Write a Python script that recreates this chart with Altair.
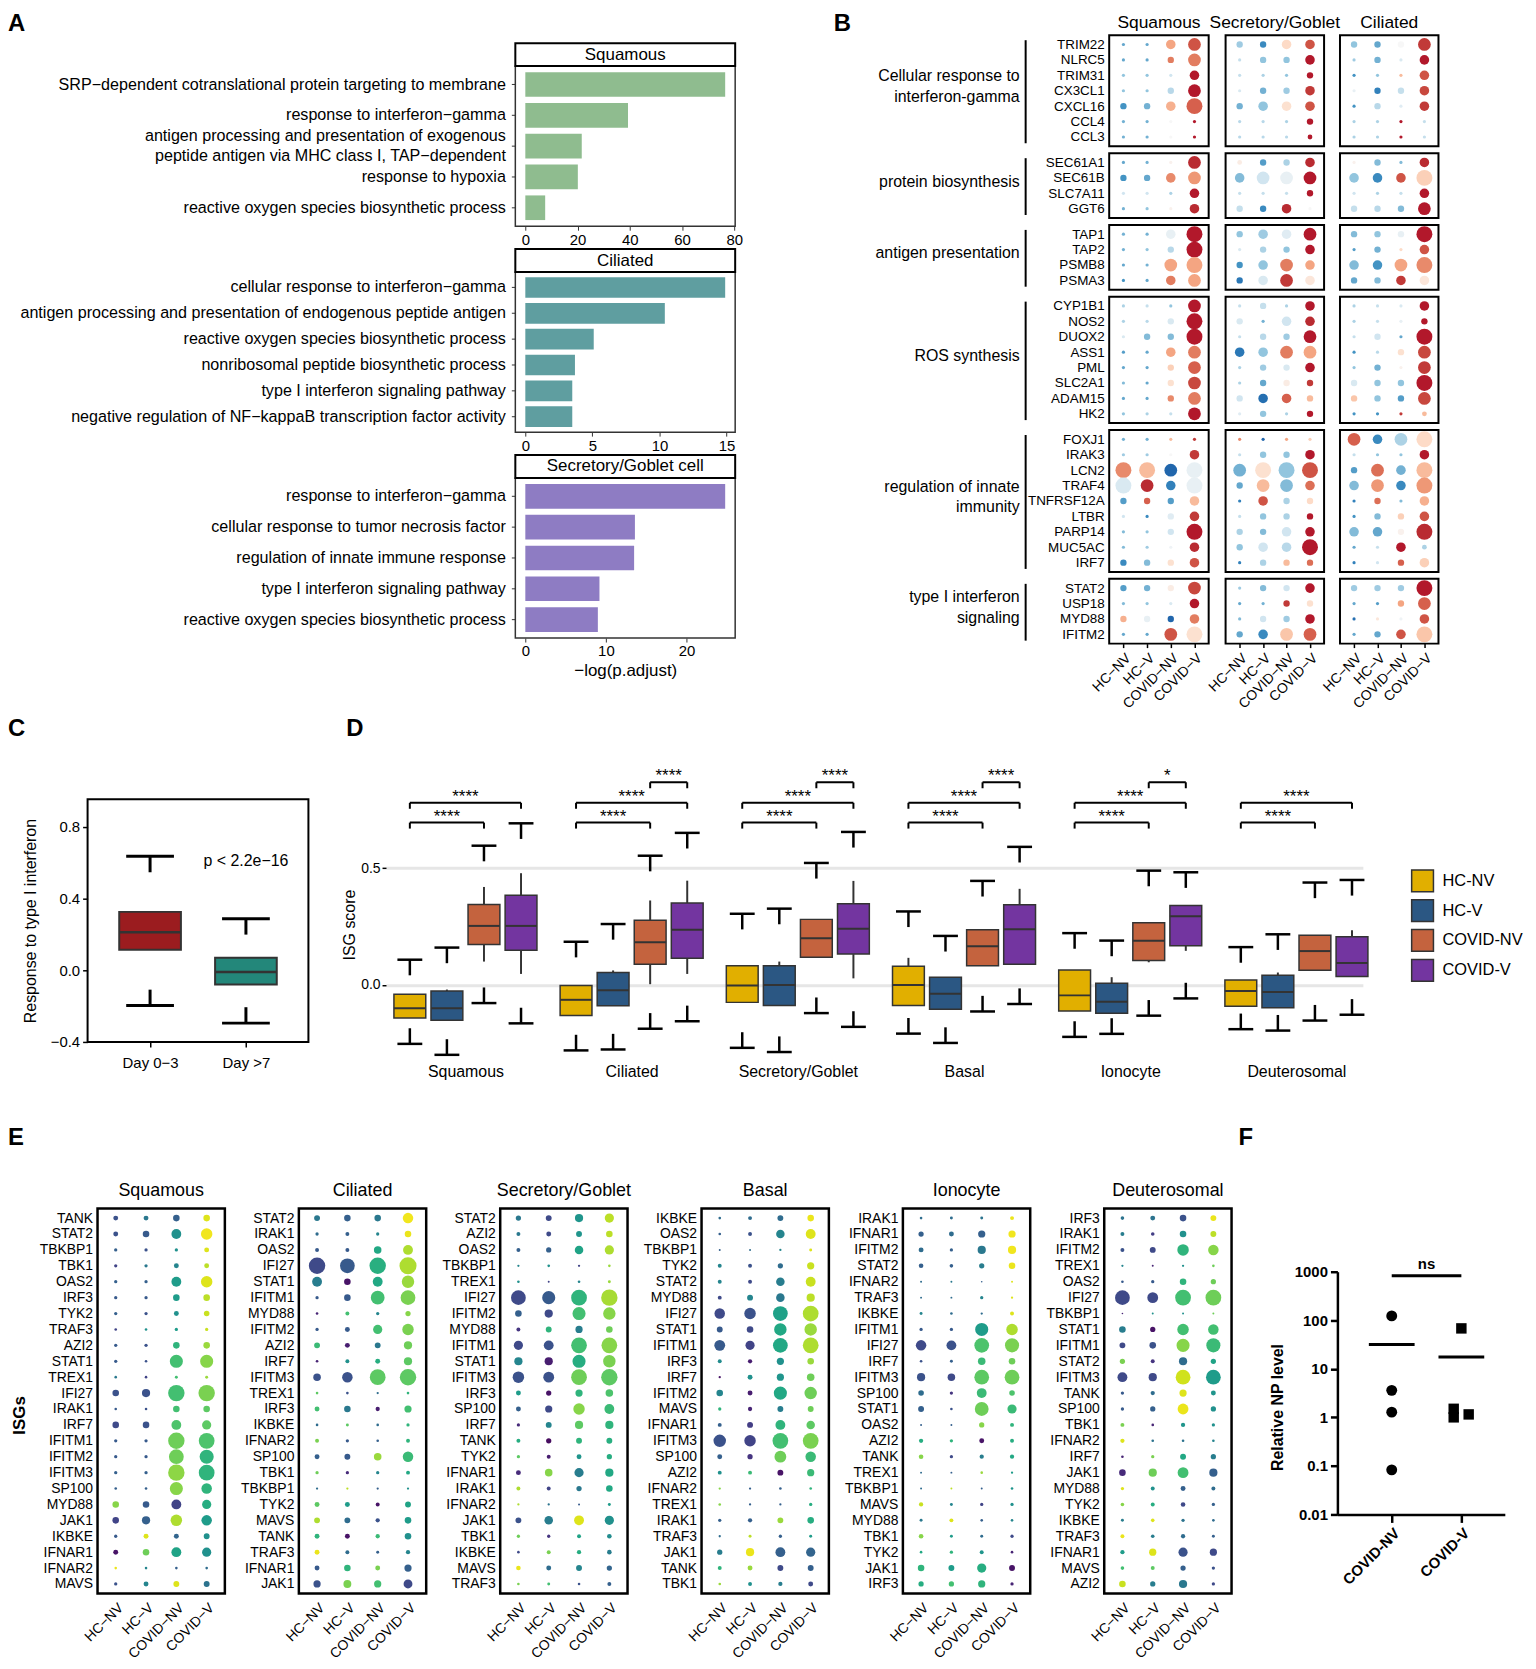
import json
import altair as alt
import pandas as pd

FONT = "Liberation Sans, Arial, Helvetica, sans-serif"
COND4 = ["HC−NV", "HC−V", "COVID−NV", "COVID−V"]

# ---------------- Panel A : GO enrichment bars ----------------
A_SQ_TERMS = [
    "SRP−dependent cotranslational protein targeting to membrane",
    "response to interferon−gamma",
    "antigen processing and presentation of exogenous|peptide antigen via MHC class I, TAP−dependent",
    "response to hypoxia",
    "reactive oxygen species biosynthetic process",
]
A_SQ_VALUES = [76.5, 39.3, 21.6, 20.1, 7.6]
A_CIL_TERMS = [
    "cellular response to interferon−gamma",
    "antigen processing and presentation of endogenous peptide antigen",
    "reactive oxygen species biosynthetic process",
    "nonribosomal peptide biosynthetic process",
    "type I interferon signaling pathway",
    "negative regulation of NF−kappaB transcription factor activity",
]
A_CIL_VALUES = [14.9, 10.4, 5.1, 3.7, 3.5, 3.5]
A_SEC_TERMS = [
    "response to interferon−gamma",
    "cellular response to tumor necrosis factor",
    "regulation of innate immune response",
    "type I interferon signaling pathway",
    "reactive oxygen species biosynthetic process",
]
A_SEC_VALUES = [24.8, 13.6, 13.5, 9.2, 9.0]
A_STRIP_TEXT = ["Squamous", "Ciliated", "Secretory/Goblet cell"]
A_TICKS = [[0, 20, 40, 60, 80], [0, 5, 10, 15], [0, 10, 20]]
A_COLORS = ["#8FBC8F", "#5F9EA0", "#8E7CC3"]

# ---------------- Panel B : pathway gene dot plot ----------------
B_CELLS = ["Squamous", "Secretory/Goblet", "Ciliated"]
B_GROUP_LABELS = [
    ["Cellular response to", "interferon-gamma"],
    ["protein biosynthesis"],
    ["antigen presentation"],
    ["ROS synthesis"],
    ["regulation of innate", "immunity"],
    ["type I interferon", "signaling"],
]
B_GROUP_GENES = [
    ["TRIM22", "NLRC5", "TRIM31", "CX3CL1", "CXCL16", "CCL4", "CCL3"],
    ["SEC61A1", "SEC61B", "SLC7A11", "GGT6"],
    ["TAP1", "TAP2", "PSMB8", "PSMA3"],
    ["CYP1B1", "NOS2", "DUOX2", "ASS1", "PML", "SLC2A1", "ADAM15", "HK2"],
    ["FOXJ1", "IRAK3", "LCN2", "TRAF4", "TNFRSF12A", "LTBR", "PARP14", "MUC5AC", "IRF7"],
    ["STAT2", "USP18", "MYD88", "IFITM2"],
]
B_SQ_COLOR = [
    [-1.3, -1.3, 1.0, 1.6], [-1.3, -1.3, 1.3, 1.3], [-1.0, -1.0, -0.5, 2.0], [-1.0, -1.0, -0.7, 2.0],
    [-1.5, -1.2, 0.9, 1.5], [-1.2, -1.2, 0.0, 2.0], [-1.2, -1.2, 0.0, 2.0],
    [-1.3, -1.2, 0.1, 1.9], [-1.5, -1.3, 1.2, 1.1], [-0.5, -0.5, -0.8, 2.0], [-1.2, -1.0, 0.1, 1.9],
    [-1.2, -1.2, -0.2, 2.0], [-1.2, -1.0, -0.7, 2.0], [-1.3, -1.2, 1.0, 1.0], [-1.5, -1.3, 1.3, 1.0],
    [-0.8, -0.6, -1.0, 2.0], [-0.8, -0.7, -0.4, 2.0], [-0.4, -1.1, -1.1, 2.0], [-1.4, -1.3, 1.0, 1.3],
    [-1.3, -1.3, 0.6, 1.5], [-1.1, -1.3, 0.4, 1.7], [-1.3, -1.3, 1.2, 1.3], [-1.0, -0.8, -0.6, 2.0],
    [-1.2, -1.2, 0.8, 1.8], [-0.9, -0.9, 0.0, 1.8], [1.2, 0.8, -2.0, -0.2], [-0.4, 1.9, -1.7, -0.2],
    [-1.4, 1.5, -1.4, 0.8], [-0.5, -1.6, -0.3, 1.8], [-1.1, -1.0, -0.5, 2.0], [-1.1, -0.9, -0.1, 1.9],
    [-1.6, -1.1, 0.4, 1.6],
    [-1.4, -1.2, 0.2, 1.7], [-1.1, -1.0, -0.4, 2.0], [0.9, -0.2, -2.0, 1.3], [-1.3, -1.3, 1.6, 0.4],
]
B_SQ_SIZE = [
    [1, 1, 3, 4], [1, 1, 2, 4], [1, 1, 1, 3], [1, 1, 2, 4], [2, 2, 3, 5], [1, 1, 1, 1], [1, 1, 1, 1],
    [1, 1, 1, 4], [2, 2, 3, 4], [1, 1, 1, 3], [1, 1, 1, 3],
    [1, 1, 3, 5], [1, 1, 2, 5], [1, 1, 4, 5], [1, 1, 3, 4],
    [1, 1, 1, 4], [1, 1, 2, 5], [1, 2, 2, 5], [1, 1, 3, 4], [1, 1, 2, 4], [1, 1, 2, 4], [1, 1, 2, 4], [1, 1, 1, 4],
    [1, 1, 1, 1], [1, 1, 1, 3], [5, 5, 4, 5], [5, 4, 3, 5], [2, 2, 2, 3], [1, 1, 2, 3], [1, 1, 2, 5], [1, 1, 1, 3], [2, 2, 2, 3],
    [2, 2, 2, 4], [1, 1, 1, 3], [2, 2, 2, 3], [1, 1, 4, 5],
]
B_SEC_COLOR = [
    [-0.9, -1.6, 0.5, 1.6], [-0.6, -1.0, -1.0, 2.0], [-0.6, -0.8, -1.0, 2.0], [-0.4, -1.2, -0.9, 1.8],
    [-1.2, -1.0, 0.4, 1.6], [-0.7, -0.7, -0.8, 2.0], [-0.7, -0.7, -0.7, 2.0],
    [0.2, -1.4, -0.8, 1.9], [-1.1, -0.5, -0.2, 2.0], [-0.6, -0.6, -0.6, 2.0], [-0.6, -1.6, 1.9, 0.0],
    [-1.0, -0.9, -0.3, 2.0], [-0.4, -0.8, -1.0, 2.0], [-1.5, -1.0, 1.3, 1.0], [-1.8, -0.4, 1.8, 0.3],
    [-0.6, -0.6, -0.8, 2.0], [-0.4, -1.2, -0.5, 1.9], [-0.6, -0.7, -0.9, 2.0], [-1.8, -1.0, 1.3, 1.0],
    [-0.8, -0.9, -0.4, 2.0], [-0.8, -1.3, 0.2, 1.8], [-0.5, -1.9, 1.5, 0.8], [-0.3, -1.0, -0.8, 2.0],
    [1.2, -2.0, 1.0, 0.6], [-0.6, -1.0, -1.0, 2.0], [-1.2, 0.4, -1.0, 1.6], [-1.3, 0.8, -1.1, 1.4],
    [-1.7, 1.6, -0.8, 0.5], [-0.6, -1.0, -0.8, 2.0], [-0.8, -1.1, -0.5, 2.0], [-1.0, -0.5, -0.7, 2.0],
    [-1.7, -0.8, 0.8, 1.4],
    [-0.9, -1.1, -0.5, 2.0], [-1.3, -1.2, 1.8, 0.4], [-1.1, -0.5, -0.9, 2.0], [-1.3, -1.6, 0.7, 1.5],
]
B_SEC_SIZE = [
    [2, 2, 3, 3], [1, 2, 2, 3], [1, 1, 1, 2], [1, 2, 2, 3], [2, 3, 3, 3], [1, 1, 1, 2], [1, 1, 1, 1.5],
    [1.5, 2, 2, 3], [3, 4, 4, 4], [1, 1, 1, 2], [2, 2, 3, 1],
    [2, 3, 3, 4], [1, 2, 2, 3], [2, 3, 4, 3], [2, 3, 4, 3],
    [1, 2, 1, 3], [2, 1, 3, 3], [1, 2, 2, 4], [3, 3, 4, 4], [1, 2, 2, 3], [1, 2, 2, 2], [2, 3, 3, 2], [1, 2, 1, 2],
    [1, 1, 1, 1], [1, 2, 2, 3], [4, 5, 5, 5], [2, 4, 4, 3], [1, 3, 2, 2], [1, 2, 2, 2], [2, 2, 3, 3], [2, 3, 3, 5], [1, 2, 2, 2],
    [1, 2, 2, 3], [1, 1, 2, 2], [1, 2, 2, 3], [2, 3, 4, 4],
]
B_CIL_COLOR = [
    [-1.0, -1.3, 0.0, 1.8], [-0.9, -1.2, -0.4, 2.0], [-1.5, -1.0, 0.8, 1.6], [-0.2, -1.7, -0.6, 1.7],
    [-1.5, -0.7, -0.3, 1.8], [-0.8, -0.8, 2.0, -0.6], [-0.8, -0.8, 2.0, -0.6],
    [0.1, -1.1, -1.1, 1.9], [-1.0, -1.6, 1.6, 0.6], [-0.5, -0.8, -0.6, 2.0], [-0.6, -0.7, -1.1, 2.0],
    [-1.1, -1.0, -0.2, 2.0], [-1.4, -1.2, 0.5, 1.6], [-1.1, -1.5, 1.0, 1.2], [-1.3, -1.1, 1.8, 0.3],
    [-0.8, -0.6, -0.4, 2.0], [-0.8, -0.6, -0.2, 2.0], [-0.6, -0.5, -1.3, 2.0], [-1.5, -0.7, 0.4, 1.7],
    [-1.0, -1.2, 0.1, 1.8], [-0.4, -1.0, -1.0, 2.0], [0.7, -1.0, -1.4, 1.7], [-1.5, -1.5, 1.8, 0.8],
    [1.5, -1.6, -0.8, 0.5], [-0.6, -1.0, -1.0, 2.0], [-1.4, 1.4, -1.2, 0.8], [-1.1, 1.1, -1.6, 1.1],
    [-1.7, 1.4, -1.1, 0.9], [-1.5, -1.1, 0.6, 1.6], [-1.1, -1.3, 0.1, 1.9], [-1.3, -0.6, 2.0, -0.8],
    [-1.7, -0.5, 1.5, 0.6],
    [-0.9, -0.9, -0.9, 2.0], [-1.3, -1.4, 1.0, 1.5], [-1.9, 0.3, -0.1, 1.6], [-1.3, -1.3, 1.6, 0.7],
]
B_CIL_SIZE = [
    [2, 2, 2, 4], [1, 2, 1, 3], [1, 1, 1, 3], [1, 2, 2, 3], [1, 2, 1, 3], [1, 1, 1, 1], [1, 1, 1, 1],
    [1, 2, 1, 3], [3, 3, 3, 5], [1, 1, 1, 3], [2, 2, 2, 4],
    [2, 2, 2, 5], [1, 2, 1, 3], [3, 3, 4, 5], [2, 2, 3, 3],
    [1, 1, 1, 3], [1, 1, 1, 2], [1, 2, 1, 5], [1, 1, 2, 4], [1, 2, 1, 4], [2, 2, 2, 5], [2, 2, 2, 4], [1, 1, 1, 1.5],
    [4, 3, 4, 5], [1, 1, 1, 3], [2, 4, 3, 5], [3, 4, 3, 5], [1, 2, 1, 3], [1, 2, 2, 3], [3, 3, 2, 5], [1, 1, 3, 1.5], [1, 1, 2, 3],
    [2, 2, 2, 5], [1, 1, 2, 4], [1, 1, 1, 3], [1, 2, 3, 5],
]
RDBU_DOMAIN = [-2, -1.5, -1, -0.5, 0, 0.5, 1, 1.5, 2]
RDBU_RANGE = ["#2166AC", "#4393C3", "#92C5DE", "#D1E5F0", "#F7F7F7",
              "#FDDBC7", "#F4A582", "#D6604D", "#B2182B"]

# ---------------- Panel C : type I IFN response ----------------
C_LABELS = ["Day 0−3", "Day >7"]
C_CAP_HI = [0.636, 0.288]
C_Q3 = [0.326, 0.070]
C_MED = [0.212, -0.010]
C_Q1 = [0.114, -0.080]
C_CAP_LO = [-0.197, -0.295]
C_COLORS = ["#9B1C1F", "#23877A"]
C_PTEXT = "p < 2.2e−16"
C_PTEXT_POS = [1.0, 0.61]

# ---------------- Panel D : ISG score boxes ----------------
D_GROUPS = ["Squamous", "Ciliated", "Secretory/Goblet", "Basal", "Ionocyte", "Deuterosomal"]
D_CONDS = ["HC-NV", "HC-V", "COVID-NV", "COVID-V"]
D_COLORS = ["#E1AF00", "#2B5783", "#C4633E", "#7335A0"]
D_CAP_HI = [[0.108, 0.160, 0.597, 0.693], [0.185, 0.261, 0.554, 0.652], [0.305, 0.327, 0.523, 0.656],
            [0.315, 0.210, 0.446, 0.592], [0.222, 0.190, 0.490, 0.483], [0.162, 0.217, 0.439, 0.450]]
D_WHISK_HI = [[-0.040, -0.020, 0.420, 0.479], [-0.003, 0.062, 0.362, 0.447], [0.082, 0.100, 0.281, 0.446],
              [0.116, 0.033, 0.237, 0.412], [0.064, 0.033, 0.267, 0.341], [0.021, 0.053, 0.213, 0.234]]
D_Q3 = [[-0.040, -0.026, 0.345, 0.384], [-0.003, 0.053, 0.277, 0.351], [0.082, 0.082, 0.281, 0.348],
        [0.080, 0.033, 0.237, 0.344], [0.064, 0.007, 0.267, 0.341], [0.021, 0.041, 0.213, 0.206]]
D_MED = [[-0.100, -0.100, 0.253, 0.253], [-0.064, -0.023, 0.183, 0.236], [-0.003, 0.000, 0.200, 0.241],
         [0.000, -0.038, 0.166, 0.239], [-0.045, -0.072, 0.189, 0.294], [-0.026, -0.030, 0.145, 0.094]]
D_Q1 = [[-0.142, -0.152, 0.173, 0.149], [-0.131, -0.090, 0.088, 0.114], [-0.075, -0.088, 0.119, 0.132],
        [-0.088, -0.104, 0.082, 0.089], [-0.112, -0.122, 0.105, 0.168], [-0.092, -0.098, 0.063, 0.036]]
D_WHISK_LO = [[-0.142, -0.152, 0.100, 0.047], [-0.131, -0.090, 0.003, 0.047], [-0.075, -0.088, 0.119, 0.028],
              [-0.088, -0.104, 0.082, 0.089], [-0.112, -0.122, 0.097, 0.146], [-0.092, -0.098, 0.063, 0.036]]
D_CAP_LO = [[-0.253, -0.300, -0.078, -0.165], [-0.281, -0.277, -0.188, -0.156], [-0.270, -0.288, -0.121, -0.180],
            [-0.209, -0.249, -0.114, -0.082], [-0.223, -0.210, -0.132, -0.058], [-0.190, -0.196, -0.153, -0.128]]
D_BR_GROUP = [0, 0, 1, 1, 1, 2, 2, 2, 3, 3, 3, 4, 4, 4, 5, 5]
D_BR_FROM = [0, 0, 0, 0, 2, 0, 0, 2, 0, 0, 2, 0, 0, 2, 0, 0]
D_BR_TO = [2, 3, 2, 3, 3, 2, 3, 3, 2, 3, 3, 2, 3, 3, 2, 3]
D_BR_LEVEL = [0.696, 0.781, 0.696, 0.781, 0.869, 0.696, 0.781, 0.869,
              0.696, 0.781, 0.869, 0.696, 0.781, 0.869, 0.696, 0.781]
D_BR_LABEL = ["****", "****", "****", "****", "****", "****", "****", "****",
              "****", "****", "****", "****", "****", "*", "****", "****"]

# ---------------- Panel E : ISG dot plots ----------------
E_CELLS = ["Squamous", "Ciliated", "Secretory/Goblet", "Basal", "Ionocyte", "Deuterosomal"]
E_SQ_GENES = ["TANK", "STAT2", "TBKBP1", "TBK1", "OAS2", "IRF3", "TYK2", "TRAF3", "AZI2", "STAT1", "TREX1", "IFI27",
              "IRAK1", "IRF7", "IFITM1", "IFITM2", "IFITM3", "SP100", "MYD88", "JAK1", "IKBKE", "IFNAR1", "IFNAR2", "MAVS"]
E_SQ_COLOR = [[0.25, 0.40, 0.30, 0.95], [0.25, 0.28, 0.50, 0.98], [0.30, 0.25, 0.50, 0.95], [0.20, 0.40, 0.45, 0.90],
              [0.30, 0.30, 0.55, 0.95], [0.28, 0.28, 0.55, 0.90], [0.30, 0.25, 0.50, 0.92], [0.20, 0.50, 0.55, 0.92],
              [0.28, 0.25, 0.65, 0.85], [0.28, 0.25, 0.70, 0.82], [0.40, 0.20, 0.70, 0.85], [0.25, 0.25, 0.70, 0.80],
              [0.28, 0.25, 0.70, 0.75], [0.22, 0.25, 0.72, 0.75], [0.28, 0.28, 0.78, 0.72], [0.28, 0.28, 0.78, 0.65],
              [0.30, 0.30, 0.83, 0.65], [0.30, 0.30, 0.82, 0.65], [0.82, 0.28, 0.20, 0.62], [0.20, 0.30, 0.88, 0.55],
              [0.28, 0.95, 0.32, 0.50], [0.05, 0.78, 0.58, 0.50], [0.97, 0.45, 0.30, 0.35], [0.25, 0.45, 0.95, 0.38]]
E_SQ_SIZE = [[1.5, 1.5, 2, 2], [1.5, 2, 3, 3.5], [1, 1, 1, 1.5], [1, 1, 1.5, 1.5], [1, 1, 3, 3.5], [1, 1, 2, 2],
             [1, 1, 1.5, 1.7], [0.8, 0.8, 1, 1], [1, 1, 2, 2], [1, 0.8, 4, 4], [0.8, 0.8, 0.9, 0.9], [2, 2.5, 5, 5],
             [0.8, 0.8, 2, 2], [2, 2, 3, 2.8], [1, 1, 5, 4.8], [1, 1, 4.5, 4.3], [1, 1, 5, 4.8], [0.8, 0.8, 4, 3.2],
             [2, 2, 3, 2.8], [2, 2.5, 3.5, 3.2], [1, 1.5, 1.5, 1.8], [1.5, 2, 3, 2.8], [0.8, 0.8, 0.8, 0.8], [1, 1.5, 1.8, 1.8]]
E_CIL_GENES = ["STAT2", "IRAK1", "OAS2", "IFI27", "STAT1", "IFITM1", "MYD88", "IFITM2", "AZI2", "IRF7", "IFITM3", "TREX1",
               "IRF3", "IKBKE", "IFNAR2", "SP100", "TBK1", "TBKBP1", "TYK2", "MAVS", "TANK", "TRAF3", "IFNAR1", "JAK1"]
E_CIL_COLOR = [[0.40, 0.30, 0.40, 0.98], [0.35, 0.30, 0.45, 0.97], [0.28, 0.28, 0.60, 0.88], [0.22, 0.28, 0.63, 0.88],
               [0.42, 0.05, 0.60, 0.85], [0.28, 0.28, 0.70, 0.80], [0.10, 0.70, 0.45, 0.82], [0.28, 0.28, 0.70, 0.80],
               [0.68, 0.08, 0.40, 0.78], [0.10, 0.50, 0.62, 0.75], [0.25, 0.25, 0.75, 0.75], [0.75, 0.25, 0.35, 0.65],
               [0.70, 0.40, 0.08, 0.70], [0.35, 0.75, 0.35, 0.65], [0.80, 0.28, 0.30, 0.65], [0.30, 0.28, 0.85, 0.68],
               [0.78, 0.12, 0.45, 0.60], [0.35, 0.90, 0.30, 0.50], [0.75, 0.55, 0.05, 0.58], [0.88, 0.35, 0.25, 0.55],
               [0.65, 0.05, 0.68, 0.50], [0.97, 0.35, 0.30, 0.45], [0.28, 0.65, 0.80, 0.30], [0.25, 0.80, 0.70, 0.22]]
E_CIL_SIZE = [[1.8, 2, 2, 3.2], [1, 1.2, 1, 2], [1.2, 1.2, 2.3, 3], [5, 4.5, 5, 5.2], [3, 2, 3, 3.8], [1, 2, 4.2, 4.5],
              [0.8, 1.2, 1, 1.6], [1, 1.5, 2.8, 3.5], [1.8, 1.5, 1.8, 2.5], [0.8, 1.2, 1.5, 2.5], [2.3, 3.2, 4.8, 5],
              [0.8, 0.8, 0.7, 0.8], [1.5, 2, 1.3, 2.2], [0.8, 0.9, 0.8, 1], [1.2, 1, 0.8, 1.2], [1.5, 1.8, 2.3, 3.2],
              [1, 1, 1, 1.2], [0.7, 0.7, 0.7, 0.7], [1.5, 1.5, 1.2, 1.8], [1.8, 1.8, 1.3, 2], [1.5, 1.5, 1.3, 2],
              [1.5, 1.2, 0.9, 1.3], [1.5, 2, 1.5, 2.2], [2.2, 2.4, 2.2, 2.7]]
E_SEC_GENES = ["STAT2", "AZI2", "OAS2", "TBKBP1", "TREX1", "IFI27", "IFITM2", "MYD88", "IFITM1", "STAT1", "IFITM3", "IRF3",
               "SP100", "IRF7", "TANK", "TYK2", "IFNAR1", "IRAK1", "IFNAR2", "JAK1", "TBK1", "IKBKE", "MAVS", "TRAF3"]
E_SEC_COLOR = [[0.40, 0.22, 0.52, 0.90], [0.40, 0.22, 0.52, 0.90], [0.30, 0.30, 0.58, 0.88], [0.45, 0.50, 0.20, 0.85],
               [0.50, 0.20, 0.45, 0.85], [0.22, 0.28, 0.65, 0.87], [0.30, 0.22, 0.70, 0.82], [0.15, 0.65, 0.42, 0.78],
               [0.22, 0.25, 0.70, 0.82], [0.45, 0.08, 0.62, 0.80], [0.25, 0.25, 0.78, 0.75], [0.55, 0.05, 0.65, 0.72],
               [0.30, 0.22, 0.82, 0.68], [0.12, 0.45, 0.75, 0.65], [0.62, 0.03, 0.65, 0.63], [0.75, 0.08, 0.52, 0.62],
               [0.12, 0.82, 0.42, 0.60], [0.88, 0.20, 0.40, 0.60], [0.88, 0.38, 0.28, 0.55], [0.25, 0.42, 0.95, 0.50],
               [0.78, 0.15, 0.58, 0.48], [0.22, 0.80, 0.62, 0.42], [0.97, 0.35, 0.45, 0.32], [0.80, 0.70, 0.25, 0.30]]
E_SEC_SIZE = [[1.6, 1.8, 2.5, 2.8], [1.2, 1.5, 1.8, 2], [1.2, 1.6, 2.6, 2.8], [0.7, 0.8, 0.7, 0.8], [0.8, 0.6, 0.8, 0.9],
              [4.5, 4, 4.8, 5], [2, 2.5, 4, 3.8], [1.2, 1.8, 2.2, 2], [2.8, 3, 4.8, 4.8], [2.5, 2.5, 4, 3.8],
              [3.5, 3.3, 4.8, 5], [1.5, 1.6, 2.2, 2.3], [1.5, 2.2, 3.5, 3], [1, 1.8, 2.5, 2.5], [1.2, 1.6, 1.8, 1.8],
              [1, 1.2, 1.5, 1.6], [1.5, 2.3, 2.8, 2.5], [1.2, 1.2, 1.6, 2], [0.7, 0.7, 0.6, 0.9], [1.8, 2.6, 3, 2.8],
              [1, 1, 1.2, 1.4], [0.8, 1.2, 1.3, 1.4], [1.4, 1.5, 1.8, 1.6], [0.8, 0.9, 0.8, 1.2]]
E_BAS_GENES = ["IKBKE", "OAS2", "TBKBP1", "TYK2", "STAT2", "MYD88", "IFI27", "STAT1", "IFITM1", "IRF3", "IRF7", "IFITM2",
               "MAVS", "IFNAR1", "IFITM3", "SP100", "AZI2", "IFNAR2", "TREX1", "IRAK1", "TRAF3", "JAK1", "TANK", "TBK1"]
E_BAS_COLOR = [[0.35, 0.35, 0.35, 0.97], [0.30, 0.25, 0.45, 0.95], [0.30, 0.35, 0.45, 0.95], [0.45, 0.25, 0.35, 0.92],
               [0.45, 0.22, 0.42, 0.92], [0.22, 0.45, 0.40, 0.90], [0.22, 0.25, 0.57, 0.88], [0.28, 0.22, 0.60, 0.85],
               [0.28, 0.20, 0.60, 0.88], [0.48, 0.08, 0.50, 0.85], [0.05, 0.50, 0.52, 0.78], [0.45, 0.08, 0.60, 0.78],
               [0.65, 0.10, 0.42, 0.78], [0.30, 0.18, 0.65, 0.75], [0.25, 0.20, 0.70, 0.80], [0.30, 0.15, 0.78, 0.68],
               [0.50, 0.68, 0.05, 0.68], [0.82, 0.30, 0.30, 0.65], [0.82, 0.30, 0.30, 0.62], [0.30, 0.30, 0.85, 0.62],
               [0.35, 0.90, 0.30, 0.55], [0.42, 0.97, 0.30, 0.32], [0.65, 0.85, 0.22, 0.30], [0.85, 0.50, 0.42, 0.22]]
E_BAS_SIZE = [[0.8, 1.2, 1.8, 2], [0.8, 1.2, 2.6, 3], [0.6, 0.6, 0.7, 0.9], [1.2, 1.2, 1.6, 2.2], [1.2, 1.2, 2.6, 3],
              [1.2, 1.8, 2.6, 2.5], [3.2, 3.5, 4.5, 4.8], [1.8, 2, 3.8, 3.8], [3.3, 2.8, 4.5, 4.8], [1.2, 1.3, 2.2, 2],
              [0.7, 1.5, 2.2, 2.3], [2, 1.5, 4, 3.8], [1, 1.3, 1.8, 1.8], [1.2, 1.8, 3, 2.6], [3.8, 3.5, 4.8, 4.8],
              [1.5, 1.6, 3.6, 3.2], [1.2, 1.2, 1.8, 2.2], [0.7, 0.7, 0.8, 0.8], [0.8, 0.7, 0.7, 1], [1, 1.3, 1.8, 2],
              [0.7, 0.9, 1, 0.9], [1.6, 2.5, 3, 2.8], [1.2, 1.5, 1.8, 1.8], [0.8, 1.2, 1.3, 1.5]]
E_ION_GENES = ["IRAK1", "IFNAR1", "IFITM2", "STAT2", "IFNAR2", "TRAF3", "IKBKE", "IFITM1", "IFI27", "IRF7", "IFITM3", "SP100",
               "STAT1", "OAS2", "AZI2", "TANK", "TREX1", "TBKBP1", "MAVS", "MYD88", "TBK1", "TYK2", "JAK1", "IRF3"]
E_ION_COLOR = [[0.35, 0.35, 0.38, 0.97], [0.30, 0.35, 0.30, 0.98], [0.35, 0.30, 0.40, 0.98], [0.30, 0.30, 0.42, 0.97],
               [0.35, 0.40, 0.30, 0.95], [0.35, 0.35, 0.45, 0.95], [0.45, 0.35, 0.35, 0.95], [0.28, 0.28, 0.55, 0.88],
               [0.22, 0.25, 0.72, 0.80], [0.25, 0.30, 0.68, 0.78], [0.25, 0.22, 0.75, 0.78], [0.35, 0.15, 0.68, 0.72],
               [0.30, 0.25, 0.78, 0.68], [0.30, 0.30, 0.82, 0.65], [0.62, 0.65, 0.05, 0.62], [0.82, 0.22, 0.42, 0.60],
               [0.35, 0.30, 0.85, 0.55], [0.35, 0.90, 0.30, 0.52], [0.92, 0.45, 0.20, 0.50], [0.40, 0.95, 0.30, 0.45],
               [0.82, 0.55, 0.35, 0.22], [0.60, 0.65, 0.52, 0.10], [0.65, 0.55, 0.62, 0.05], [0.62, 0.70, 0.65, 0.10]]
E_ION_SIZE = [[0.8, 0.9, 0.9, 1.2], [1.6, 1.5, 2.2, 2.2], [1.5, 1, 2.5, 2.5], [1.4, 1.1, 1.6, 2], [0.6, 0.6, 0.5, 0.6],
              [0.6, 0.6, 1, 0.7], [0.9, 0.8, 0.7, 1.2], [1, 1, 4, 3.5], [3.2, 3, 4.5, 4.3], [0.8, 0.9, 2.3, 2],
              [2.5, 2.3, 4.5, 4.5], [1.7, 1, 3, 1.7], [1.8, 0.8, 4.2, 2.8], [0.6, 0.6, 1.6, 1.2], [1.3, 1, 1.5, 1.2],
              [1.4, 1, 1.3, 1.3], [0.6, 0.6, 0.8, 0.7], [0.6, 0.6, 0.6, 0.8], [1.3, 0.9, 1, 1], [0.9, 1.2, 0.8, 0.8],
              [1.4, 0.9, 0.9, 1], [0.8, 1, 1.2, 0.8], [2, 1.8, 2.8, 1.8], [1.6, 1.6, 2.2, 1]]
E_DEU_GENES = ["IRF3", "IRAK1", "IFITM2", "TREX1", "OAS2", "IFI27", "TBKBP1", "STAT1", "IFITM1", "STAT2", "IFITM3", "TANK",
               "SP100", "TBK1", "IFNAR2", "IRF7", "JAK1", "MYD88", "TYK2", "IKBKE", "TRAF3", "IFNAR1", "MAVS", "AZI2"]
E_DEU_COLOR = [[0.38, 0.38, 0.25, 0.97], [0.42, 0.18, 0.50, 0.90], [0.25, 0.22, 0.65, 0.82], [0.45, 0.10, 0.50, 0.78],
               [0.28, 0.28, 0.65, 0.78], [0.22, 0.22, 0.70, 0.78], [0.10, 0.50, 0.50, 0.78], [0.42, 0.05, 0.70, 0.70],
               [0.22, 0.25, 0.82, 0.68], [0.80, 0.15, 0.35, 0.58], [0.22, 0.22, 0.93, 0.55], [0.28, 0.35, 0.95, 0.52],
               [0.28, 0.30, 0.97, 0.50], [0.80, 0.10, 0.52, 0.50], [0.95, 0.38, 0.38, 0.45], [0.10, 0.80, 0.60, 0.42],
               [0.12, 0.78, 0.70, 0.30], [0.95, 0.50, 0.30, 0.35], [0.82, 0.62, 0.22, 0.30], [0.42, 0.95, 0.38, 0.35],
               [0.97, 0.42, 0.35, 0.30], [0.55, 0.95, 0.25, 0.22], [0.70, 0.75, 0.30, 0.25], [0.92, 0.42, 0.40, 0.22]]
E_DEU_SIZE = [[1.1, 1.5, 2, 1.8], [1.2, 1.1, 2, 1.8], [1.2, 1.8, 3.5, 3.2], [0.7, 0.6, 0.7, 0.8], [0.8, 1, 2, 1.6],
              [4.5, 3.3, 4.8, 4.8], [0.5, 0.6, 0.6, 0.6], [2, 1.6, 3.5, 3.2], [1.8, 2, 4, 4.3], [1.6, 1.2, 2.5, 1.6],
              [3, 2.5, 4.5, 4.5], [1, 1.3, 2.2, 1.5], [1, 1.6, 3.3, 1.6], [1.2, 0.8, 1.3, 1], [1.3, 0.8, 0.8, 0.8],
              [0.8, 1, 1.8, 1.6], [2, 2.5, 3.3, 2.5], [1, 1.2, 1.5, 1.2], [1.1, 1.2, 1.4, 1], [0.9, 1.1, 1, 0.8],
              [1.2, 1.1, 1.3, 0.9], [1.3, 2.2, 2.8, 2.2], [1.1, 1.2, 1.6, 1], [2, 1.6, 2.5, 1]]
E_GENES = [E_SQ_GENES, E_CIL_GENES, E_SEC_GENES, E_BAS_GENES, E_ION_GENES, E_DEU_GENES]
E_COLOR = [E_SQ_COLOR, E_CIL_COLOR, E_SEC_COLOR, E_BAS_COLOR, E_ION_COLOR, E_DEU_COLOR]
E_SIZE = [E_SQ_SIZE, E_CIL_SIZE, E_SEC_SIZE, E_BAS_SIZE, E_ION_SIZE, E_DEU_SIZE]

# ---------------- Panel F : NP level ----------------
F_CONDS = ["COVID-NV", "COVID-V"]
F_NV_VALUES = [123, 3.6, 1.28, 0.083]
F_V_VALUES = [68, 1.5, 1.0, 1.15]
F_V_JITTER = [0.0, -0.11, -0.11, 0.105]
F_MEANS = [31.8, 17.5]
F_NS_LEVEL = 830
F_YTICKS = [0.01, 0.1, 1, 10, 100, 1000]

# =====================================================================
# One canvas; every panel gets its own scales whose pixel ranges place it.
W, H = 1528, 1661
ONE = pd.DataFrame({"v": [0]})


def qscale(d0, d1, r0, r1, **kw):
    return alt.Scale(domain=[d0, d1], range=[r0, r1], nice=False, zero=False, **kw)


def frame(x0, x1, y0, y1, stroke="black", sw=2.0, fill="transparent", texts=(), vlines=()):
    xs = qscale(0, 1, x0, x1)
    ys = qscale(0, 1, y1, y0)

    def XD(v):
        return alt.XDatum(v, type="quantitative", scale=xs, axis=None)

    def YD(v):
        return alt.YDatum(v, type="quantitative", scale=ys, axis=None)

    base = alt.Chart(ONE)
    layers = [base.mark_rect(fill=fill, stroke=stroke, strokeWidth=sw).encode(
        x=XD(0), x2=alt.X2Datum(1), y=YD(0), y2=alt.Y2Datum(1))]
    for fx, fy, props in texts:
        p = dict(font=FONT, color="black")
        p.update(props)
        layers.append(base.mark_text(**p).encode(x=XD(fx), y=YD(fy)))
    for fx, props in vlines:
        layers.append(base.mark_rule(**props).encode(x=XD(fx), y=YD(0), y2=alt.Y2Datum(1)))
    return alt.layer(*layers)


def letter_text(text, dx, dy):
    return dict(text=text, fontSize=24, fontWeight="bold", align="left", baseline="middle", dx=dx, dy=dy)


children = []

# ---------------- A ----------------
A_X0, A_X1 = 510, 731
A_STRIP_Y = [(31, 54), (238, 261), (445, 468)]
A_PLOT_Y = [(54, 215), (261, 422), (468, 629)]
A_TERMS = [A_SQ_TERMS, A_CIL_TERMS, A_SEC_TERMS]
A_VALUES = [A_SQ_VALUES, A_CIL_VALUES, A_SEC_VALUES]
for i in range(3):
    terms, values = A_TERMS[i], A_VALUES[i]
    mx = max(values)
    y0, y1 = A_PLOT_Y[i]
    df = pd.DataFrame({"term": terms, "value": values})
    xkw = dict(orient="bottom", offset=y1 - H, values=A_TICKS[i], domain=False, grid=False,
               tickColor="#333333", tickSize=4, labelFontSize=15, labelPadding=2, labelFlush=False)
    if i == 2:
        xaxis = alt.Axis(title="−log(p.adjust)", titleFontSize=17, titleFontWeight="normal", titlePadding=4, **xkw)
    else:
        xaxis = alt.Axis(title=None, **xkw)
    children.append(alt.Chart(df).mark_bar(color=A_COLORS[i]).encode(
        y=alt.Y("term:N", sort=terms,
                scale=alt.Scale(domain=terms, range=[y0, y1], paddingInner=0.2, paddingOuter=0.2),
                axis=alt.Axis(orient="left", offset=-A_X0, title=None, labelExpr="split(datum.value, '|')",
                              labelFontSize=16.2, labelLimit=800, labelLineHeight=20, domain=False,
                              labelBaseline=alt.condition("indexof(datum.value, '|') >= 0",
                                                          alt.value("line-bottom"), alt.value("middle")),
                              tickColor="#333333", tickSize=4, labelPadding=6)),
        x=alt.X("value:Q", scale=qscale(-0.05 * mx, 1.05 * mx, A_X0, A_X1), axis=xaxis),
        x2=alt.datum(0),
    ))
    children.append(frame(A_X0, A_X1, y0, y1, stroke="#333333", sw=1.5))
    s0, s1 = A_STRIP_Y[i]
    texts = [(0.5, 0.5, dict(text=A_STRIP_TEXT[i], fontSize=17, baseline="middle", align="center"))]
    if i == 0:
        texts.append((0, 1, letter_text("A", -A_X0, -19)))
        texts.append((0, 1, letter_text("B", 830 - A_X0, -19)))
    children.append(frame(A_X0, A_X1, s0, s1, stroke="black", sw=2, fill="white", texts=texts))

# ---------------- B ----------------
B_X = [(1107, 1207), (1224, 1323), (1339, 1438)]
B_TOP, B_STEP, B_GAP = 23, 15.5, 7
B_LINE_H = 21
B_COLOR = [B_SQ_COLOR, B_SEC_COLOR, B_CIL_COLOR]
B_SIZE = [B_SQ_SIZE, B_SEC_SIZE, B_CIL_SIZE]
gy = B_TOP
start = 0
for gi, genes in enumerate(B_GROUP_GENES):
    h = B_STEP * (len(genes) + 0.2)
    y0, y1 = gy, gy + h
    for ci in range(3):
        x0, x1 = B_X[ci]
        recs = []
        for j, gene in enumerate(genes):
            for k, cond in enumerate(COND4):
                recs.append({"gene": gene, "cond": cond,
                             "col": B_COLOR[ci][start + j][k], "sz": B_SIZE[ci][start + j][k]})
        df = pd.DataFrame(recs)
        if gi == len(B_GROUP_GENES) - 1:
            xaxis = alt.Axis(orient="bottom", offset=y1 - H, title=None, labelAngle=315, labelAlign="right",
                             labelBaseline="top", labelFontSize=14, tickSize=4, tickWidth=1.5, domain=False,
                             labelPadding=3)
        else:
            xaxis = None
        yaxis = alt.Axis(orient="left", offset=-x0, title=None, labelFontSize=13.5, ticks=False, domain=False,
                         labelPadding=5) if ci == 0 else None
        children.append(alt.Chart(df).mark_circle(opacity=1).encode(
            x=alt.X("cond:N", sort=COND4, scale=alt.Scale(domain=COND4, range=[x0, x1], padding=0.6), axis=xaxis),
            y=alt.Y("gene:N", sort=genes, scale=alt.Scale(domain=genes, range=[y0, y1], padding=0.6), axis=yaxis),
            color=alt.Color("col:Q", scale=alt.Scale(domain=RDBU_DOMAIN, range=RDBU_RANGE), legend=None),
            size=alt.Size("sz:Q", scale=alt.Scale(type="pow", exponent=2, domain=[0, 5], range=[0, 256]),
                          legend=None),
        ))
        texts, vlines = [], []
        if gi == 0:
            texts.append((0.5, 1, dict(text=B_CELLS[ci], fontSize=17.5, align="center", baseline="middle", dy=-12)))
        if ci == 0:
            nlines = len(B_GROUP_LABELS[gi])
            texts.append((0, 0.5, dict(text=B_GROUP_LABELS[gi], fontSize=16, align="right", baseline="middle",
                                       lineHeight=B_LINE_H, dx=-90, dy=-(nlines - 1) * B_LINE_H / 2 - 4)))
            vlines.append((0, dict(xOffset=-84, yOffset=-3, y2Offset=5, strokeWidth=2, color="black")))
        children.append(frame(x0, x1, y0, y1, stroke="black", sw=2, texts=texts, vlines=vlines))
    start += len(genes)
    gy = y1 + B_GAP

# ---------------- C ----------------
C_X0, C_X1, C_Y0, C_Y1 = 80, 302, 791, 1035
cdf = pd.DataFrame({"pos": [0, 1], "label": C_LABELS, "cap_hi": C_CAP_HI, "q3": C_Q3,
                    "med": C_MED, "q1": C_Q1, "cap_lo": C_CAP_LO})
cxs = qscale(-0.6, 1.6, C_X0, C_X1)
cys = qscale(-0.4, 0.955, C_Y1, C_Y0)
cxa = alt.Axis(orient="bottom", offset=C_Y1 - H, values=[0, 1],
               labelExpr=json.dumps(C_LABELS, ensure_ascii=False) + "[datum.value]",
               title=None, domain=False, grid=False, tickSize=5, tickWidth=1.5, labelFontSize=15,
               labelPadding=9, labelFlush=False)
cya = alt.Axis(orient="left", offset=-C_X0, values=[-0.4, 0, 0.4, 0.8], format=".1f", domain=False, grid=False,
               tickSize=5, tickWidth=1.5, labelFontSize=15, labelPadding=3,
               title="Response to type I interferon", titleFontSize=16, titleFontWeight="normal",
               titleAngle=270, titleX=-57, titleY=913, titleAlign="center", titleBaseline="middle",
               titleLimit=500)


def CX(f):
    return alt.X(f"{f}:Q", scale=cxs, axis=cxa)


def CY(f):
    return alt.Y(f"{f}:Q", scale=cys, axis=cya)


cb = alt.Chart(cdf)
c_layers = [
    cb.mark_rule(xOffset=-24, x2Offset=24, strokeWidth=3, color="black").encode(x=CX("pos"), x2="pos", y=CY("cap_hi")),
    cb.mark_rule(y2Offset=16, strokeWidth=3, color="black").encode(x=CX("pos"), y=CY("cap_hi"), y2="cap_hi"),
    cb.mark_rule(xOffset=-24, x2Offset=24, strokeWidth=3, color="black").encode(x=CX("pos"), x2="pos", y=CY("cap_lo")),
    cb.mark_rule(y2Offset=-16, strokeWidth=3, color="black").encode(x=CX("pos"), y=CY("cap_lo"), y2="cap_lo"),
    cb.mark_bar(size=62, stroke="#333333", strokeWidth=2).encode(
        x=CX("pos"), y=CY("q1"), y2="q3",
        color=alt.Color("label:N", scale=alt.Scale(domain=C_LABELS, range=C_COLORS), legend=None)),
    cb.mark_rule(xOffset=-31, x2Offset=31, strokeWidth=2.5, color="#333333").encode(x=CX("pos"), x2="pos", y=CY("med")),
    alt.Chart(pd.DataFrame({"x": [C_PTEXT_POS[0]], "y": [C_PTEXT_POS[1]], "t": [C_PTEXT]})).mark_text(
        fontSize=16, color="black", baseline="middle", font=FONT).encode(x=CX("x"), y=CY("y"), text="t:N"),
]
children.append(alt.layer(*c_layers))
children.append(frame(C_X0, C_X1, C_Y0, C_Y1, stroke="black", sw=2, texts=[
    (0, 1, letter_text("C", -C_X0, -71)),
    (0, 1, letter_text("D", 340 - C_X0, -71)),
]))

# ---------------- D ----------------
D_X0, D_X1, D_Y0, D_Y1 = 380, 1362, 755, 1055
D_XDOM = [-0.448, 5.37]
DODGE = 0.223
recs = []
for gi, g in enumerate(D_GROUPS):
    for ci, c in enumerate(D_CONDS):
        recs.append({"group": g, "cond": c, "xpos": gi + (ci - 1.5) * DODGE,
                     "cap_hi": D_CAP_HI[gi][ci], "whisk_hi": D_WHISK_HI[gi][ci], "q3": D_Q3[gi][ci],
                     "med": D_MED[gi][ci], "q1": D_Q1[gi][ci], "whisk_lo": D_WHISK_LO[gi][ci],
                     "cap_lo": D_CAP_LO[gi][ci]})
ddf = pd.DataFrame(recs)
brs = []
for i in range(len(D_BR_GROUP)):
    x1 = D_BR_GROUP[i] + (D_BR_FROM[i] - 1.5) * DODGE
    x2 = D_BR_GROUP[i] + (D_BR_TO[i] - 1.5) * DODGE
    brs.append({"x1": x1, "x2": x2, "xm": (x1 + x2) / 2, "level": D_BR_LEVEL[i], "label": D_BR_LABEL[i]})
bdf = pd.DataFrame(brs)
dxs = qscale(D_XDOM[0], D_XDOM[1], D_X0, D_X1)
dys = qscale(-0.33, 0.95, D_Y1, D_Y0)
dxa = alt.Axis(orient="bottom", offset=D_Y1 - H, values=list(range(len(D_GROUPS))),
               labelExpr=json.dumps(D_GROUPS) + "[datum.value]", ticks=False, domain=False, grid=False,
               labelFontSize=16, labelPadding=2, title=None, labelFlush=False, labelLimit=300)
dya = alt.Axis(orient="left", offset=-D_X0, values=[0, 0.5], format=".1f", grid=True, gridColor="#E6E6E6",
               gridWidth=3, domain=False, tickSize=4, tickWidth=1.5, labelFontSize=14, labelPadding=2,
               title="ISG score", titleFontSize=16, titleFontWeight="normal", titleAngle=270,
               titleX=-37, titleY=917, titleAlign="center", titleBaseline="middle")


def DX(f):
    return alt.X(f"{f}:Q", scale=dxs, axis=dxa)


def DY(f):
    return alt.Y(f"{f}:Q", scale=dys, axis=dya)


db = alt.Chart(ddf)
bb = alt.Chart(bdf)
d_layers = [
    db.mark_rule(xOffset=-12.5, x2Offset=12.5, strokeWidth=2.5, color="black").encode(x=DX("xpos"), x2="xpos", y=DY("cap_hi")),
    db.mark_rule(y2Offset=15.7, strokeWidth=2.5, color="black").encode(x=DX("xpos"), y=DY("cap_hi"), y2="cap_hi"),
    db.mark_rule(xOffset=-12.5, x2Offset=12.5, strokeWidth=2.5, color="black").encode(x=DX("xpos"), x2="xpos", y=DY("cap_lo")),
    db.mark_rule(y2Offset=-15.7, strokeWidth=2.5, color="black").encode(x=DX("xpos"), y=DY("cap_lo"), y2="cap_lo"),
    db.mark_rule(strokeWidth=2, color="#333333").encode(x=DX("xpos"), y=DY("q3"), y2="whisk_hi"),
    db.mark_rule(strokeWidth=2, color="#333333").encode(x=DX("xpos"), y=DY("q1"), y2="whisk_lo"),
    db.mark_bar(size=32, stroke="#333333", strokeWidth=1.5).encode(
        x=DX("xpos"), y=DY("q1"), y2="q3",
        color=alt.Color("cond:N", scale=alt.Scale(domain=D_CONDS, range=D_COLORS),
                        legend=alt.Legend(title=None, orient="none", legendX=1410, legendY=861,
                                          symbolType="square", symbolSize=480,
                                          symbolStrokeColor="#333333", symbolStrokeWidth=1.5,
                                          symbolOpacity=1, labelFontSize=16.5, labelFont=FONT,
                                          labelColor="black", labelOffset=8, rowPadding=2, padding=0,
                                          labelLimit=200))),
    db.mark_rule(xOffset=-16, x2Offset=16, strokeWidth=2, color="#333333").encode(x=DX("xpos"), x2="xpos", y=DY("med")),
    bb.mark_rule(strokeWidth=2, color="black").encode(x=DX("x1"), x2="x2", y=DY("level")),
    bb.mark_rule(y2Offset=6, strokeWidth=2, color="black").encode(x=DX("x1"), y=DY("level"), y2="level"),
    bb.mark_rule(y2Offset=6, strokeWidth=2, color="black").encode(x=DX("x2"), y=DY("level"), y2="level"),
    bb.mark_text(fontSize=17, color="black", baseline="alphabetic", dy=-1, font=FONT).encode(
        x=DX("xm"), y=DY("level"), text="label:N"),
]
children.append(alt.layer(*d_layers))

# ---------------- E ----------------
E_X0, E_STEP_X, E_W, E_Y0, E_Y1 = 90, 202.4, 128, 1202.5, 1589.5
for i in range(6):
    x0 = E_X0 + i * E_STEP_X
    x1 = x0 + E_W
    genes = E_GENES[i]
    recs = []
    for j, gene in enumerate(genes):
        for k, cond in enumerate(COND4):
            recs.append({"gene": gene, "cond": cond, "c": E_COLOR[i][j][k], "s": E_SIZE[i][j][k]})
    df = pd.DataFrame(recs)
    ykw = dict(orient="left", offset=-x0, labelFontSize=14, ticks=False, domain=False, labelPadding=5)
    if i == 0:
        yaxis = alt.Axis(title="ISGs", titleFontSize=17, titleFontWeight="bold", titleAngle=270, titleX=-78,
                         titleY=1410, titleAlign="center", titleBaseline="middle", **ykw)
    else:
        yaxis = alt.Axis(title=None, **ykw)
    xaxis = alt.Axis(orient="bottom", offset=E_Y1 - H, title=None, labelAngle=315, labelAlign="right",
                     labelBaseline="top", labelFontSize=14, ticks=False, domain=False, labelPadding=7)
    children.append(alt.Chart(df).mark_circle(opacity=1).encode(
        x=alt.X("cond:N", sort=COND4, scale=alt.Scale(domain=COND4, range=[x0, x1], padding=0.6), axis=xaxis),
        y=alt.Y("gene:N", sort=genes, scale=alt.Scale(domain=genes, range=[E_Y0, E_Y1], padding=0.6), axis=yaxis),
        color=alt.Color("c:Q", scale=alt.Scale(scheme="viridis", domain=[0, 1]), legend=None),
        size=alt.Size("s:Q", scale=alt.Scale(type="pow", exponent=2, domain=[0, 5], range=[0, 272]), legend=None),
    ))
    texts = [(0.5, 1, dict(text=E_CELLS[i], fontSize=18, align="center", baseline="middle", dy=-18))]
    if i == 0:
        texts.append((0, 1, letter_text("E", -x0, -70.5)))
        texts.append((0, 1, letter_text("F", 1237 - x0, -70.5)))
    children.append(frame(x0, x1, E_Y0, E_Y1, stroke="black", sw=2.5, texts=texts))

# ---------------- F ----------------
F_X0, F_X1, F_Y0, F_Y1 = 1336.4, 1504.7, 1266, 1510
F_XDOM = [-0.78, 1.624]
fxs = qscale(F_XDOM[0], F_XDOM[1], F_X0, F_X1)
fys = alt.Scale(type="log", domain=[0.01, 1000], range=[F_Y1, F_Y0], nice=False)
fxa = alt.Axis(orient="bottom", offset=F_Y1 - H, values=[0, 1], labelExpr=json.dumps(F_CONDS) + "[datum.value]",
               labelAngle=315, labelAlign="right", labelBaseline="top", labelFontWeight="bold", labelFontSize=15,
               tickSize=8, tickWidth=2.5, domainWidth=2.5, domainColor="black", labelPadding=3,
               title=None, grid=False, labelFlush=False)
fya = alt.Axis(orient="left", offset=-F_X0, values=F_YTICKS, format="~g", labelFontWeight="bold", labelFontSize=15,
               tickSize=7, tickWidth=2.5, domainWidth=2.5, domainColor="black", labelPadding=3, grid=False,
               title="Relative NP level", titleFontWeight="bold", titleFontSize=16, titleAngle=270,
               titleX=-60, titleY=1402, titleAlign="center", titleBaseline="middle")


def FX(f):
    return alt.X(f"{f}:Q", scale=fxs, axis=fxa)


def FY(f):
    return alt.Y(f"{f}:Q", scale=fys, axis=fya)


nv = pd.DataFrame({"x": [0.0] * len(F_NV_VALUES), "v": F_NV_VALUES})
vv = pd.DataFrame({"x": [1 + j for j in F_V_JITTER], "v": F_V_VALUES})
mean = pd.DataFrame({"x": [0, 1], "v": F_MEANS})
ns = pd.DataFrame({"x1": [0], "x2": [1], "xm": [0.5], "v": [F_NS_LEVEL], "t": ["ns"]})
f_layers = [
    alt.Chart(nv).mark_point(shape="circle", filled=True, size=120, color="black", opacity=1).encode(x=FX("x"), y=FY("v")),
    alt.Chart(vv).mark_point(shape="square", filled=True, size=110, color="black", opacity=1).encode(x=FX("x"), y=FY("v")),
    alt.Chart(mean).mark_rule(xOffset=-23, x2Offset=23, strokeWidth=3, color="black").encode(x=FX("x"), x2="x", y=FY("v")),
    alt.Chart(ns).mark_rule(strokeWidth=3, color="black").encode(x=FX("x1"), x2="x2", y=FY("v")),
    alt.Chart(ns).mark_text(fontSize=15, fontWeight="bold", color="black", baseline="alphabetic", dy=-7,
                            font=FONT).encode(x=FX("xm"), y=FY("v"), text="t:N"),
]
children.append(alt.layer(*f_layers))

# =====================================================================
chart = alt.layer(*children).resolve_scale(
    x="independent", y="independent", color="independent", size="independent"
).resolve_axis(
    x="independent", y="independent"
).properties(
    width=W, height=H, padding=0, autosize=alt.AutoSizeParams(type="none")
).configure_view(
    stroke="transparent"
).configure_axis(
    labelFont=FONT, titleFont=FONT, labelColor="black", titleColor="black",
    tickColor="black", domainColor="black"
).configure_legend(
    labelFont=FONT, titleFont=FONT
)

chart.save("out.html", embed_options={"renderer": "svg", "actions": False})
